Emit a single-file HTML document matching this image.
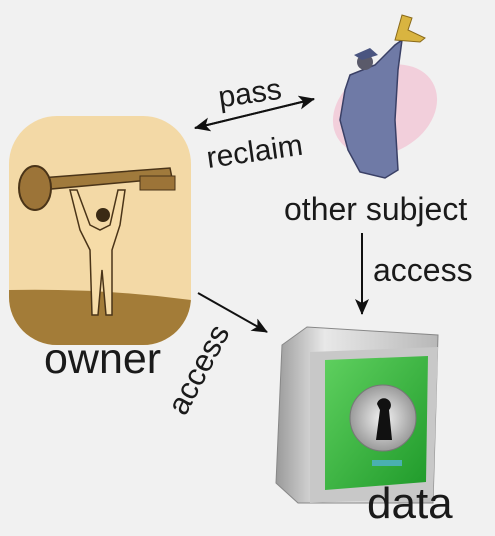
<!DOCTYPE html>
<html><head><style>
html,body{margin:0;padding:0;background:#f1f1f1;}
svg{display:block}
text{font-family:"Liberation Sans",sans-serif;fill:#1a1a1a}
</style></head><body>
<svg width="495" height="536" viewBox="0 0 495 536" xmlns="http://www.w3.org/2000/svg">
<defs>
<marker id="ah" markerWidth="16" markerHeight="14" refX="15" refY="7" orient="auto" markerUnits="userSpaceOnUse">
<path d="M0,0 L16,7 L0,14 L4,7 Z" fill="#111"/></marker>
<linearGradient id="metal" x1="0" x2="1"><stop offset="0" stop-color="#9a9a9a"/><stop offset="0.3" stop-color="#e8e8e8"/><stop offset="1" stop-color="#b8b8b8"/></linearGradient>
<linearGradient id="green" x1="0" x2="1" y1="0" y2="1"><stop offset="0" stop-color="#5fd05f"/><stop offset="1" stop-color="#1f9a2a"/></linearGradient>
<radialGradient id="lock"><stop offset="0" stop-color="#f4f4f4"/><stop offset="1" stop-color="#9a9a9a"/></radialGradient>
<clipPath id="card"><rect x="9" y="116" width="182" height="229" rx="48"/></clipPath>
</defs>
<rect width="495" height="536" fill="#f1f1f1"/>
<g clip-path="url(#card)">
<rect x="9" y="116" width="182" height="229" fill="#f3d9a6"/>
<path d="M9 290 Q100 288 191 300 L191 347 L9 347Z" fill="#a37c38"/>
</g>
<path d="M40 178 L170 168 L172 178 L40 190Z" fill="#a07a3c" stroke="#4a3418" stroke-width="1.5"/>
<ellipse cx="35" cy="188" rx="16" ry="22" fill="#9c7438" stroke="#4a3418" stroke-width="2"/>
<rect x="140" y="176" width="35" height="14" fill="#9c7438" stroke="#4a3418"/>
<path d="M70 190 L80 230 L90 250 L92 315 L98 315 L102 270 L106 315 L112 315 L112 250 L120 225 L125 190 L118 190 L110 225 L100 230 L90 225 L77 190Z" fill="#f6dca8" stroke="#4a3418" stroke-width="1.5"/>
<circle cx="103" cy="215" r="7" fill="#3a2a14"/>
<ellipse cx="385" cy="110" rx="55" ry="42" fill="#f3c7d6" opacity="0.8" transform="rotate(-30 385 110)"/>
<path d="M350 75 L375 65 L395 45 L402 40 L398 70 L395 120 L398 170 L385 178 L360 172 L348 150 L340 120 L345 90Z" fill="#6f7aa6" stroke="#3a4066" stroke-width="1.5"/>
<circle cx="365" cy="62" r="8" fill="#5a5a6a"/>
<path d="M354 55 L370 48 L378 55 L362 60Z" fill="#4a5580"/>
<path d="M395 40 L402 15 L412 18 L408 30 L425 38 L420 42 Z" fill="#d9b440" stroke="#8a6a1a"/>
<path d="M282 345 L307 327 L438 335 L433 503 L298 503 L276 483Z" fill="url(#metal)" stroke="#888"/>
<path d="M310 352 L438 347 L433 498 L310 503Z" fill="#c8c8c8"/>
<path d="M325 360 L428 356 L426 482 L325 490Z" fill="url(#green)"/>
<circle cx="383" cy="418" r="33" fill="url(#lock)" stroke="#777"/>
<path d="M377 404 a7 7 0 1 1 12 6 L392 440 L376 440 L380 410Z" fill="#111"/>
<rect x="372" y="460" width="30" height="6" fill="#4ab0b0"/>
<line x1="314" y1="99" x2="195" y2="128" stroke="#111" stroke-width="2" marker-end="url(#ah)"/>
<line x1="195" y1="128" x2="314" y2="99" stroke="#111" stroke-width="2" marker-end="url(#ah)"/>
<line x1="362" y1="233" x2="362" y2="314" stroke="#111" stroke-width="2" marker-end="url(#ah)"/>
<line x1="198" y1="293" x2="267" y2="332" stroke="#111" stroke-width="2" marker-end="url(#ah)"/>
<text x="218" y="103" font-size="30" transform="rotate(-8 250 92)">pass</text>
<text x="206" y="162" font-size="30" transform="rotate(-8 250 150)">reclaim</text>
<text x="284" y="220" font-size="32">other subject</text>
<text x="373" y="281" font-size="32">access</text>
<text x="44" y="373" font-size="43">owner</text>
<text x="0" y="0" font-size="31" transform="translate(185,417) rotate(-62)">access</text>
<text x="367" y="518" font-size="44">data</text>
</svg>
</body></html>
